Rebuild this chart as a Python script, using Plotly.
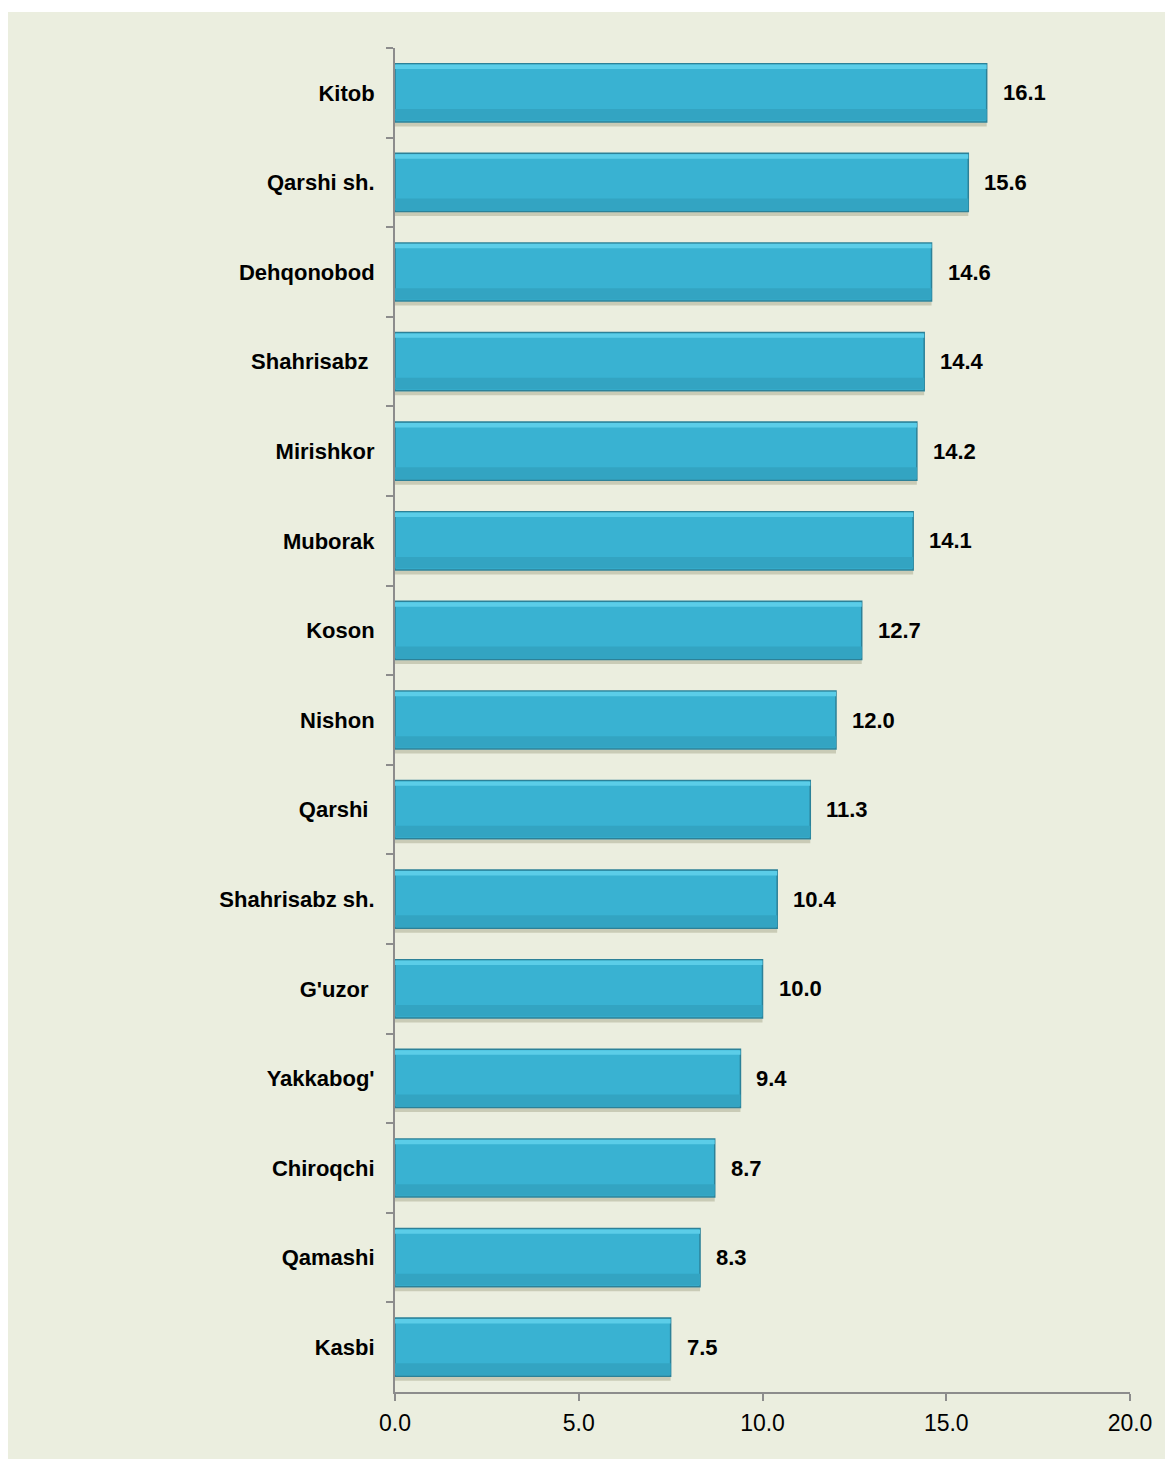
import plotly.graph_objects as go

districts = [
    "Kitob", "Qarshi sh.", "Dehqonobod", "Shahrisabz\u00a0", "Mirishkor",
    "Muborak", "Koson", "Nishon", "Qarshi\u00a0", "Shahrisabz sh.",
    "G'uzor\u00a0", "Yakkabog'", "Chiroqchi", "Qamashi", "Kasbi",
]
values = [16.1, 15.6, 14.6, 14.4, 14.2, 14.1, 12.7, 12.0, 11.3, 10.4, 10.0, 9.4, 8.7, 8.3, 7.5]
x_ticks = [0, 5, 10, 15, 20]
x_tick_labels = ["0.0", "5.0", "10.0", "15.0", "20.0"]

panel = "#EBEEDF"
font = "Liberation Sans, Arial, sans-serif"

fig = go.Figure()
# soft shadow under each bar
fig.add_trace(
    go.Bar(
        x=values, y=districts, orientation="h", width=0.045, offset=0.33,
        marker={"color": "rgba(150,150,120,0.4)", "line": {"width": 0}}, hoverinfo="skip",
    ),
)
# main bar body
fig.add_trace(
    go.Bar(
        x=values, y=districts, orientation="h", width=0.65, offset=-0.325,
        marker={"color": "#39B2D2", "line": {"color": "#2C8198", "width": 1.5}},
        hoverinfo="x+y",
    ),
)
# light bevel on top edge
fig.add_trace(
    go.Bar(
        x=values, y=districts, orientation="h", width=0.05, offset=-0.315,
        marker={"color": "#5BCDE8", "line": {"width": 0}}, hoverinfo="skip",
    ),
)
# slightly darker lower part
fig.add_trace(
    go.Bar(
        x=values, y=districts, orientation="h", width=0.13, offset=0.18,
        marker={"color": "#33A4C2", "line": {"width": 0}}, hoverinfo="skip",
    ),
)

for name, value in zip(districts, values):
    fig.add_annotation(
        x=value, y=name, text=f"<b>{value:.1f}</b>",
        xanchor="left", yanchor="middle", xshift=14, showarrow=False,
        font={"family": font, "size": 22, "color": "#000000"},
    )

fig.add_shape(
    type="rect", xref="paper", yref="paper", layer="below",
    x0=-387 / 735, x1=1 + 43 / 735, y0=-67 / 1344, y1=1 + 36 / 1344,
    fillcolor=panel, line={"width": 0},
)

fig.update_layout(
    width=1165,
    height=1451,
    barmode="overlay",
    paper_bgcolor="#FFFFFF",
    plot_bgcolor=panel,
    margin={"l": 387, "r": 43, "t": 40, "b": 67},
    showlegend=False,
    font={"family": font, "color": "#000000"},
    xaxis={
        "range": [0, 20],
        "tickvals": x_ticks,
        "ticktext": x_tick_labels,
        "showgrid": False,
        "zeroline": False,
        "showline": True,
        "linecolor": "#8C8C8C",
        "linewidth": 2,
        "ticks": "outside",
        "ticklen": 7,
        "tickwidth": 2,
        "tickcolor": "#8C8C8C",
        "tickfont": {"size": 23},
        "ticklabelstandoff": 2,
    },
    yaxis={
        "categoryorder": "array",
        "categoryarray": districts,
        "range": [14.5, -0.5],
        "showgrid": False,
        "zeroline": False,
        "showline": True,
        "linecolor": "#8C8C8C",
        "linewidth": 2,
        "ticks": "outside",
        "tickson": "boundaries",
        "ticklen": 7,
        "tickwidth": 2,
        "tickcolor": "#8C8C8C",
        "tickfont": {"size": 22},
        "ticklabelstandoff": 14,
        "tickprefix": "<b>",
        "ticksuffix": "</b>",
    },
)

fig.write_html("out.html")
